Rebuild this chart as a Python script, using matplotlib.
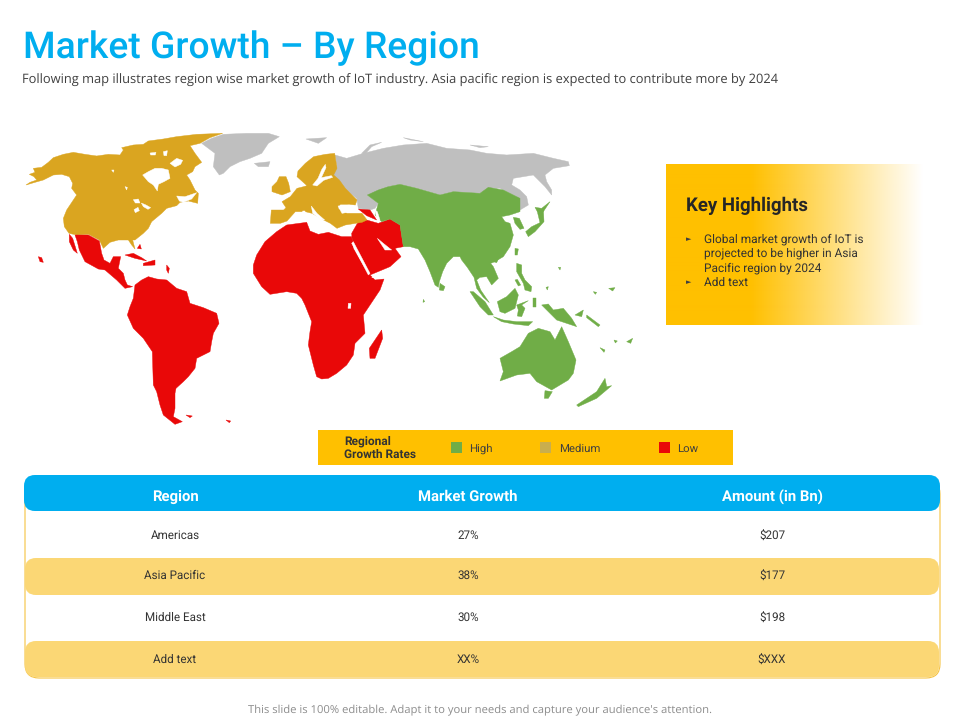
import numpy as np
import matplotlib
matplotlib.use("Agg")
import matplotlib.pyplot as plt
from matplotlib.patches import Polygon, Rectangle, FancyBboxPatch

plt.rcParams["text.hinting"] = "none"

FONT = "Roboto"
BODY = "Open Sans"
BLUE = "#00AEEF"
AMBER = "#FFC000"
BAND = "#FBD775"
GOLD = "#DAA520"
GREY = "#BFBFBF"
GREEN = "#70AD47"
RED = "#E90808"

TITLE = "Market Growth – By Region"
SUBTITLE = "Following map illustrates region wise market growth of IoT industry. Asia pacific region is expected to contribute more by 2024"
FOOTER = "This slide is 100% editable. Adapt it to your needs and capture your audience's attention."
HEADERS = ["Region", "Market Growth", "Amount (in Bn)"]
REGIONS = ["Americas", "Asia Pacific", "Middle East", "Add text"]
GROWTH = ["27%", "38%", "30%", "XX%"]
AMOUNTS = ["$207", "$177", "$198", "$XXX"]
LEGEND_LABELS = ["High", "Medium", "Low"]
LEGEND_COLORS = [GREEN, "#C9AE4E", RED]
BULLETS = [["Global market growth of IoT is", "projected to be higher in Asia", "Pacific region by 2024"], ["Add text"]]

# Map outlines, in 3x crop coordinates of the given origin
WEST = [
 (GOLD, [(18,180),(30,172),(50,165),(42,155),(28,148),(45,142),(40,130),(65,127),(85,112),(100,98),(130,88),(160,82),(195,88),(230,93),(265,88),(300,90),(310,75),(305,68),(340,60),(370,58),(385,48),(430,42),(470,35),(530,28),(608,25),(570,38),(540,55),(510,62),(525,85),(545,112),(525,125),(518,140),(500,150),(510,165),(525,195),(535,205),(533,235),(505,228),(480,232),(470,242),(440,250),(425,265),(395,290),(385,310),(370,325),(345,345),(338,345),(345,372),(335,360),(325,345),(295,345),(270,352),(250,370),(238,345),(205,328),(170,330),(147,325),(133,305),(130,280),(140,255),(160,225),(170,210),(155,190),(158,175),(148,155),(125,148),(100,150),(70,165),(45,172)]),
 (RED, [(165,330),(205,330),(238,348),(245,385),(252,405),(270,415),(280,395),(302,395),(295,430),(310,445),(315,465),(322,480),(338,485),(315,490),(290,465),(255,435),(235,432),(195,410),(178,375),(172,350)]),
 (RED, [(148,328),(158,340),(172,385),(160,375),(148,350)]),
 (RED, [(345,480),(365,465),(385,455),(410,462),(440,465),(470,490),(500,500),(510,535),(550,548),(590,565),(597,595),(580,625),(575,650),(570,680),(530,700),(525,730),(505,755),(490,770),(468,790),(465,805),(465,850),(460,875),(487,890),(465,898),(430,870),(420,840),(410,800),(400,780),(397,680),(370,640),(340,610),(322,570),(330,545),(340,520)]),
 (RED, [(315,390),(340,385),(365,398),(380,408),(345,400)]),
 (RED, [(370,415),(405,405),(405,420),(370,422)]),
 (RED, [(352,370),(360,358),(364,372)]),
 (RED, [(55,395),(65,398),(70,412),(60,410)]),
 (RED, [(498,870),(517,873),(510,878)]),
 (RED, [(618,885),(632,888),(628,893)]),
 (RED, [(440,420),(448,430),(445,445),(440,435)]),
 (GREY, [(545,55),(575,40),(610,28),(680,25),(745,25),(778,35),(745,55),(725,85),(690,100),(660,110),(630,125),(610,145),(598,150),(580,125),(585,85)]),
 (GREY, [(703,115),(750,110),(745,125),(715,125)]),
 (GREY, [(858,42),(920,38),(895,55)]),
 ("white", [(368,150),(385,140),(405,130),(425,130),(445,135),(450,160),(432,170),(415,178),(412,198),(400,180),(385,170)]),
 ("white", [(450,115),(470,100),(488,106),(482,118),(465,126)]),
 ("white", [(390,84),(408,82),(406,90),(392,90)]),
 ("white", [(430,80),(442,77),(440,92),(432,92)]),
 ("white", [(340,224),(355,222),(360,234),(346,234)]),
 ("white", [(364,234),(378,240),(392,248),(384,253),(370,245)]),
 ("white", [(342,254),(354,247),(358,257),(346,263)]),
 ("white", [(470,213),(495,215),(530,203),(515,222),(490,232),(478,228)]),
 ("white", [(275,135),(282,135),(280,142)]),
 ("white", [(315,185),(322,187),(320,195)]),
]
EAST = [
 (GREY, [(45,90),(80,100),(130,85),(190,70),(250,60),(320,55),(380,70),(450,75),(500,85),(560,90),(640,85),(700,100),(745,110),(748,122),(700,130),(675,150),(680,170),(695,195),(695,210),(675,185),(660,170),(640,150),(610,155),(580,160),(575,180),(600,195),(620,215),(625,240),(600,255),(590,215),(540,190),(505,190),(480,205),(400,200),(360,210),(290,190),(240,178),(205,185),(190,205),(142,210),(175,235),(165,250),(150,255),(115,250),(110,220),(65,185),(20,165),(30,150),(50,120)]),
 (GREY, [(125,85),(150,60),(185,52),(155,65),(135,88)]),
 (GREY, [(250,38),(310,50),(270,45)]),
 (GREY, [(450,60),(505,65),(480,68)]),
 (RED, [(-200,420),(-190,390),(-165,350),(-130,320),(-100,300),(-40,292),(-30,318),(-5,328),(25,322),(65,335),(95,335),(100,370),(120,405),(145,445),(165,465),(192,462),(180,495),(150,540),(130,570),(135,625),(105,655),(100,690),(80,720),(50,745),(25,760),(5,762),(-10,755),(-20,720),(-35,660),(-30,620),(-25,590),(-45,540),(-55,520),(-70,505),(-100,500),(-150,508),(-175,485),(-200,445)]),
 (RED, [(95,325),(115,290),(140,285),(175,295),(210,282),(240,300),(250,365),(225,370),(243,395),(210,425),(150,450),(135,420),(97,350)]),
 (RED, [(115,252),(150,255),(170,285),(140,272)]),
 (RED, [(185,615),(188,640),(165,700),(150,700),(148,670)]),
 (GREEN, [(142,210),(175,195),(205,185),(240,178),(290,190),(360,210),(400,200),(480,205),(505,187),(550,195),(600,220),(600,260),(570,270),(545,275),(555,290),(570,295),(580,330),(570,365),(550,395),(525,410),(512,415),(520,425),(535,460),(515,480),(500,455),(480,457),(470,465),(482,495),(508,533),(490,517),(470,490),(462,457),(442,427),(425,405),(420,395),(400,395),(380,415),(368,440),(358,470),(355,487),(345,480),(330,440),(315,405),(295,372),(270,365),(250,365),(240,300),(210,282),(185,290),(165,270),(175,235)]),
 (GREEN, [(360,475),(375,485),(370,497),(358,495)]),
 (GREEN, [(540,700),(575,680),(600,665),(625,625),(655,610),(690,620),(705,645),(725,605),(745,650),(768,705),(760,745),(745,765),(695,795),(650,770),(630,745),(590,750),(540,768),(550,740)]),
 (GREEN, [(675,797),(697,800),(685,820),(673,820)]),
 (GREEN, [(770,840),(830,800),(855,760),(860,785),(875,782),(830,820),(775,845)]),
 (GREEN, [(765,570),(790,555),(785,575)]),
 (GREEN, [(800,570),(840,600),(835,605),(800,578)]),
 (GREEN, [(840,668),(855,675),(852,682)]),
 (GREEN, [(310,523),(314,530),(309,532)]),
 (GREEN, [(820,500),(830,502),(826,508)]),
 (GREEN, [(866,490),(885,488),(878,498)]),
 (GREEN, [(920,650),(938,640),(932,655)]),
 (GREEN, [(882,645),(892,648),(886,654)]),
 ("white", [(172,340),(190,355),(215,375),(195,375)]),
 ("white", [(95,355),(100,350),(150,445),(145,450)]),
 ("white", [(155,458),(195,447),(190,460)]),
 ("white", [(165,255),(172,260),(180,285),(170,282)]),
 ("white", [(85,535),(93,535),(92,550),(84,550)]),
]
EUROPE = [
 (GOLD, [(25,235),(28,195),(65,195),(72,188),(60,170),(85,155),(105,130),(125,125),(135,122),(105,95),(108,78),(130,55),(155,35),(190,28),(218,25),(222,50),(225,70),(215,90),(232,105),(250,130),(285,165),(280,180),(262,178),(235,178),(228,190),(255,205),(300,205),(315,225),(300,232),(250,240),(225,250),(205,235),(185,225),(150,205),(130,200),(100,200),(75,228),(55,235)]),
 (GOLD, [(30,125),(45,110),(52,95),(72,95),(80,115),(85,140),(60,150),(30,140)]),
 ("white", [(152,120),(168,100),(180,72),(190,58),(192,68),(178,98),(208,92),(212,97),(185,106),(165,123)]),
 ("white", [(228,183),(262,180),(285,190),(270,200),(240,205)]),
 ("white", [(148,183),(165,205),(188,225),(175,224),(152,205)]),
 ("white", [(122,198),(129,198),(128,222),(120,222)]),
]
ASIA_EAST = [
 (GREEN, [(160,112),(178,115),(192,145),(180,148),(165,130)]),
 (GREEN, [(197,155),(215,140),(240,128),(232,95),(250,85),(252,125),(225,155),(205,170)]),
 (GREEN, [(225,82),(245,85),(270,65),(250,95),(232,95)]),
 (GREEN, [(165,205),(175,207),(172,225),(165,225)]),
 (GREEN, [(103,235),(115,237),(110,248),(103,246)]),
 (GREEN, [(30,335),(40,335),(75,365),(100,405),(85,405),(60,380)]),
 (GREEN, [(100,410),(130,420),(170,425),(218,425),(205,437),(160,432),(125,425)]),
 (GREEN, [(112,365),(140,350),(165,325),(175,345),(165,385),(135,400),(120,395)]),
 (GREEN, [(170,375),(205,362),(185,375),(195,385),(185,410),(172,408),(175,390)]),
 (GREEN, [(170,250),(185,255),(185,280),(195,300),(215,320),(213,335),(195,330),(190,310),(170,275)]),
 (GREEN, [(165,300),(172,298),(182,315),(175,318)]),
 (GREEN, [(245,375),(265,372),(280,390),(310,385),(335,415),(350,440),(320,430),(290,420),(265,395)]),
 (GREEN, [(220,355),(228,355),(228,380),(220,380)]),
 (GREEN, [(258,322),(265,320),(262,330)]),
 (GREEN, [(295,262),(302,262),(300,270)]),
]
SHAPE_GROUPS = [(WEST, 20, 125), (EAST, 320, 125), (EUROPE, 262, 145), (ASIA_EAST, 460, 180)]

fig = plt.figure(figsize=(9.6, 7.2), dpi=100)
ax = fig.add_axes([0, 0, 1, 1])

def put(x, y, s, size, color, weight="normal", ha="left", family=FONT, **kw):
    # y is the optical middle of capitals; place on a shared baseline
    base = y + 0.36 * size * 100 / 72
    return ax.text(x, base, s, fontsize=size, color=color, fontweight=weight, ha=ha, va="baseline", family=family, **kw)

put(23, 45, TITLE, 26.8, BLUE, "medium")
put(22, 79, SUBTITLE, 9.3, "#404040", family=BODY)

# Solid land first, cut-outs above it
for want_white in (False, True):
    for shapes, ox, oy in SHAPE_GROUPS:
        for color, pts in shapes:
            if (color == "white") != want_white:
                continue
            p = np.array(pts, float) / 3 + [ox, oy]
            ax.add_patch(Polygon(p, closed=True, facecolor=color, edgecolor=color, lw=0.3, zorder=4 if want_white else 3))

# Key highlights panel with fade
g = np.ones((1, 260, 4))
g[0, :, :3] = matplotlib.colors.to_rgb(AMBER)
g[0, :, 3] = np.clip(1 - (np.arange(260) - 85) / 172, 0, 1)
ax.imshow(g, extent=(666, 926, 325, 164), aspect="auto", zorder=1, interpolation="bilinear")
ax.set_xlim(0, 960)
ax.set_ylim(720, 0)
ax.axis("off")

put(686, 204.5, "Key Highlights", 13.4, "#262626", "bold")
y = 238
for block in BULLETS:
    ax.text(686, y + 1, "►", fontsize=5, color="#404040", va="center", family="DejaVu Sans")
    for line in block:
        put(704, y, line, 8.6, "#333333")
        y += 14.5

# Legend bar
ax.add_patch(Rectangle((318, 430), 415, 35, facecolor=AMBER, edgecolor="none"))
put(344, 440, "Regional", 8.6, "#333333", "bold")
put(344, 454, "Growth Rates", 8.6, "#333333", "bold")
for lx, tx, lab, col in zip([451, 540, 659], [469, 559, 677], LEGEND_LABELS, LEGEND_COLORS):
    ax.add_patch(Rectangle((lx, 442), 11, 11, facecolor=col, edgecolor="none"))
    put(tx, 448, lab, 8.2, "#404040")

# Table
def rounded(x0, y0, x1, y1, r, **kw):
    ax.add_patch(FancyBboxPatch((x0 + r, y0 + r), x1 - x0 - 2 * r, y1 - y0 - 2 * r,
                                boxstyle=f"round,pad={r},rounding_size={r}", **kw))

rounded(25, 480, 940, 678, 14, facecolor="white", edgecolor="#F5C242", lw=0.8, zorder=1)
rounded(24, 475, 940, 511, 11, facecolor=BLUE, edgecolor="none", zorder=2)
for y0, y1 in ((558, 595), (641, 677)):
    rounded(25, y0, 939, y1, 11, facecolor=BAND, edgecolor="none", zorder=2)

cols = [175, 468, 772]
for cx, h in zip(cols, HEADERS):
    put(cx, 496, h, 10.7, "white", "bold", ha="center", zorder=5)
for cy, a, b, c in zip([535, 575, 617, 659], REGIONS, GROWTH, AMOUNTS):
    put(cols[0], cy, a, 8.4, "#333333", ha="center", zorder=5)
    put(cols[1], cy, b, 8.4, "#333333", ha="center", zorder=5)
    put(cols[2], cy + 1, c, 8.4, "#333333", ha="center", zorder=5)

put(480, 709, FOOTER, 8.15, "#8C8C8C", ha="center", family=BODY)

fig.savefig("out.png", dpi=100)
